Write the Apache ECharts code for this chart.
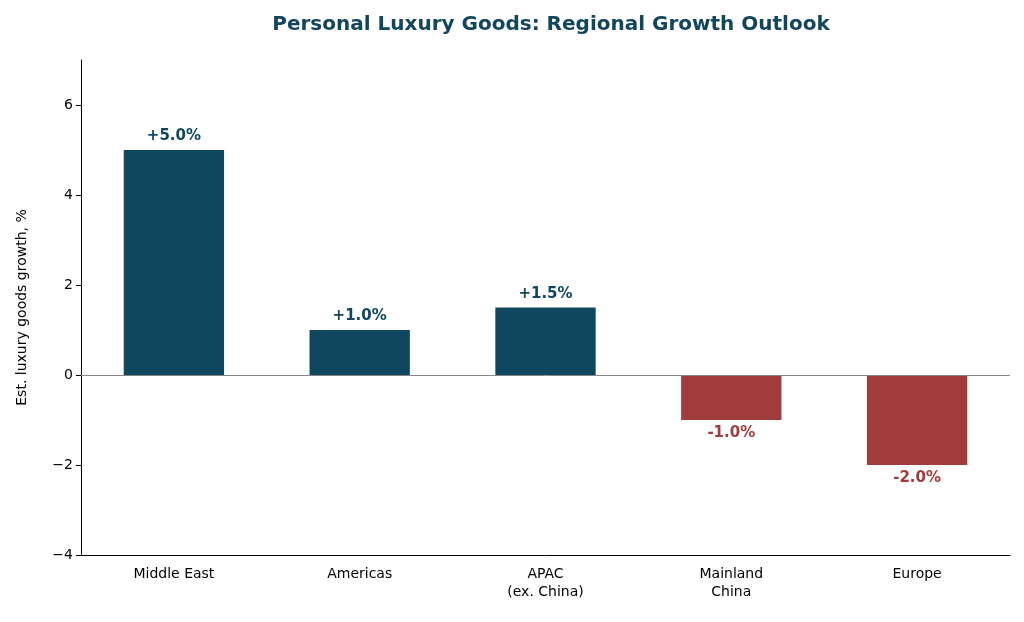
<!DOCTYPE html>
<html><head><meta charset="utf-8">
<script src="https://cdn.jsdelivr.net/npm/echarts@6/dist/echarts.min.js"></script>
<style>html,body{margin:0;padding:0;background:#fff}#c{width:1024px;height:622px}</style>
</head><body><div id="c"></div>
<script>
const categories = ["Middle East","Americas","APAC\n(ex. China)","Mainland\nChina","Europe"];
const values = [5.0, 1.0, 1.5, -1.0, -2.0];
const POS = "#10475f", NEG = "#a03c3c";
const chart = echarts.init(document.getElementById('c'));
chart.setOption({
  animation:false,
  title:{text:"Personal Luxury Goods: Regional Growth Outlook",left:546,top:10,textAlign:'center',
    textStyle:{fontFamily:"DejaVu Sans",fontSize:20,fontWeight:'bold',color:"#12455e"}},
  grid:{left:81,right:14,top:60,bottom:67},
  xAxis:{type:'category',data:categories,
    axisLine:{onZero:false,lineStyle:{color:'#000'}},axisTick:{alignWithLabel:true,lineStyle:{color:'#000'},length:5},
    axisLabel:{fontFamily:"DejaVu Sans",fontSize:14,color:'#000',margin:10,lineHeight:18}},
  yAxis:{type:'value',min:-4,max:7,interval:2,
    name:"Est. luxury goods growth, %",nameLocation:'middle',nameGap:52,
    nameTextStyle:{fontFamily:"DejaVu Sans",fontSize:14,color:'#000'},
    axisLine:{show:true,lineStyle:{color:'#000'}},axisTick:{show:true,length:5,lineStyle:{color:'#000'}},
    splitLine:{show:false},
    axisLabel:{showMaxLabel:false,fontFamily:"DejaVu Sans",fontSize:14,color:'#000',
      formatter:v=>v<0?"\u2212"+Math.abs(v):String(v)}},
  series:[{type:'bar',barWidth:'54%',
    data:values.map(v=>({value:v,itemStyle:{color:v>=0?POS:NEG},
      label:{show:true,position:v>=0?'top':'bottom',distance:6,
        formatter:(v>=0?'+':'')+v.toFixed(1)+'%',
        fontFamily:"DejaVu Sans",fontSize:15,fontWeight:'bold',color:v>=0?POS:NEG}})),
    markLine:{silent:true,symbol:'none',label:{show:false},
      lineStyle:{color:'#888',type:'solid',width:1},data:[{yAxis:0}]}}]
});
</script></body></html>
